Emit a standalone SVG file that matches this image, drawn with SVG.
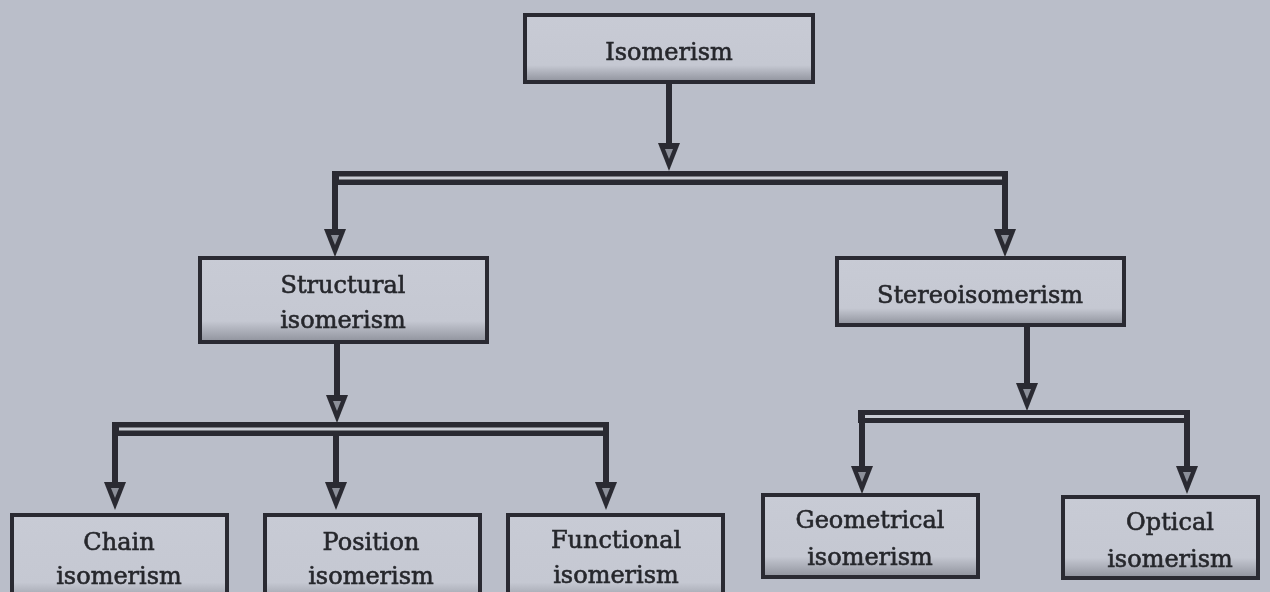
<svg xmlns="http://www.w3.org/2000/svg" width="1270" height="592" viewBox="0 0 1270 592">
  <defs>
    <linearGradient id="boxfill" x1="0" y1="0" x2="0" y2="1">
      <stop offset="0" stop-color="#c8cbd5"/>
      <stop offset="0.75" stop-color="#c5c8d2"/>
      <stop offset="1" stop-color="#8f929c"/>
    </linearGradient>
    <filter id="soft" x="-5%" y="-5%" width="110%" height="110%">
      <feGaussianBlur stdDeviation="0.7"/>
    </filter>
    <g id="arrowhead">
      <path d="M-11,-28 L11,-28 L0,0 Z" fill="#2a2b31"/>
      <path d="M-4,-22 L4,-22 L0,-12 Z" fill="#8c8f99"/>
    </g>
  </defs>
  <style>
    .bg { fill: #babec9; }
    .box { fill: url(#boxfill); stroke: #2b2c32; stroke-width: 4; }
    .lbl { font-family: "DejaVu Serif", "Liberation Serif", serif; font-size: 24px; fill: #26272c; stroke: #26272c; stroke-width: 0.6; text-anchor: middle; }
    .stem { stroke: #2a2b31; stroke-width: 6; fill: none; }
    .bar { fill: #2a2b31; }
    .stripe { fill: #c9ccd4; }
  </style>

  <rect class="bg" x="0" y="0" width="1270" height="592"/>

  <g id="connectors" filter="url(#soft)">
    <line class="stem" x1="669" y1="82" x2="669" y2="146"/>
    <use href="#arrowhead" x="669" y="171"/>
    <rect class="bar" x="332" y="171" width="676" height="14"/>
    <rect class="stripe" x="339" y="176.5" width="663" height="3"/>
    <line class="stem" x1="335" y1="185" x2="335" y2="232"/>
    <use href="#arrowhead" x="335" y="257"/>
    <line class="stem" x1="1005" y1="185" x2="1005" y2="232"/>
    <use href="#arrowhead" x="1005" y="257"/>

    <line class="stem" x1="337" y1="342" x2="337" y2="398"/>
    <use href="#arrowhead" x="337" y="423"/>
    <rect class="bar" x="112" y="422" width="497" height="14"/>
    <rect class="stripe" x="119" y="427.5" width="484" height="3"/>
    <line class="stem" x1="115" y1="436" x2="115" y2="485"/>
    <use href="#arrowhead" x="115" y="510"/>
    <line class="stem" x1="336" y1="436" x2="336" y2="485"/>
    <use href="#arrowhead" x="336" y="510"/>
    <line class="stem" x1="606" y1="436" x2="606" y2="485"/>
    <use href="#arrowhead" x="606" y="510"/>

    <line class="stem" x1="1027" y1="325" x2="1027" y2="386"/>
    <use href="#arrowhead" x="1027" y="411"/>
    <rect class="bar" x="858" y="410" width="332" height="13"/>
    <rect class="stripe" x="865" y="415" width="319" height="3"/>
    <line class="stem" x1="862" y1="423" x2="862" y2="469"/>
    <use href="#arrowhead" x="862" y="494"/>
    <line class="stem" x1="1187" y1="423" x2="1187" y2="469"/>
    <use href="#arrowhead" x="1187" y="494"/>
  </g>

  <g id="node-isomerism">
    <rect class="box" x="525" y="15" width="288" height="67" filter="url(#soft)"/>
    <text class="lbl" x="669" y="60">Isomerism</text>
  </g>

  <g id="node-structural">
    <rect class="box" x="200" y="258" width="287" height="84" filter="url(#soft)"/>
    <text class="lbl" x="343" y="293">Structural</text>
    <text class="lbl" x="343" y="328">isomerism</text>
  </g>

  <g id="node-stereo">
    <rect class="box" x="837" y="258" width="287" height="67" filter="url(#soft)"/>
    <text class="lbl" x="980" y="303">Stereoisomerism</text>
  </g>

  <g id="node-chain">
    <rect class="box" x="12" y="515" width="215" height="90" filter="url(#soft)"/>
    <text class="lbl" x="119" y="550">Chain</text>
    <text class="lbl" x="119" y="584">isomerism</text>
  </g>

  <g id="node-position">
    <rect class="box" x="265" y="515" width="215" height="90" filter="url(#soft)"/>
    <text class="lbl" x="371" y="550">Position</text>
    <text class="lbl" x="371" y="584">isomerism</text>
  </g>

  <g id="node-functional">
    <rect class="box" x="508" y="515" width="215" height="90" filter="url(#soft)"/>
    <text class="lbl" x="616" y="548">Functional</text>
    <text class="lbl" x="616" y="583">isomerism</text>
  </g>

  <g id="node-geometrical">
    <rect class="box" x="763" y="495" width="215" height="82" filter="url(#soft)"/>
    <text class="lbl" x="870" y="528">Geometrical</text>
    <text class="lbl" x="870" y="565">isomerism</text>
  </g>

  <g id="node-optical">
    <rect class="box" x="1063" y="497" width="195" height="81" filter="url(#soft)"/>
    <text class="lbl" x="1170" y="530">Optical</text>
    <text class="lbl" x="1170" y="567">isomerism</text>
  </g>
</svg>
